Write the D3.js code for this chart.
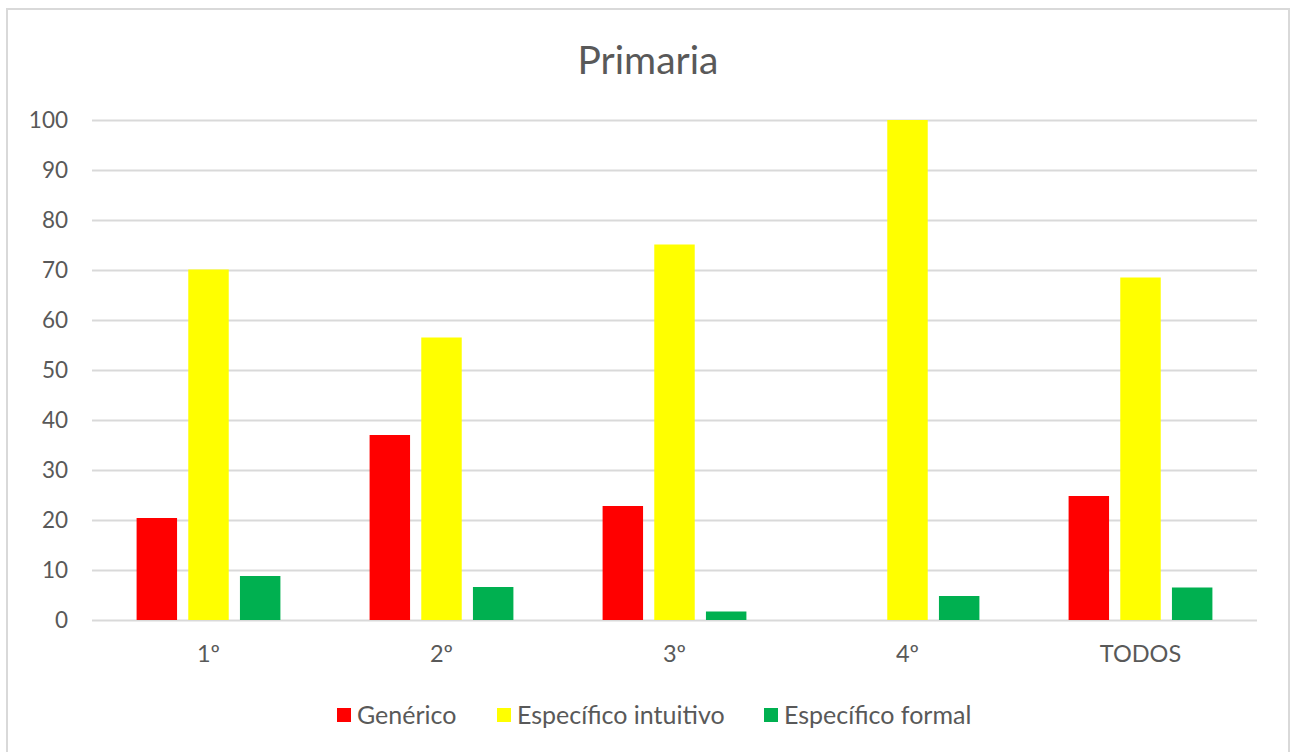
<!DOCTYPE html>
<html>
<head>
<meta charset="utf-8">
<script src="https://cdn.jsdelivr.net/npm/d3@7"></script>
<style>
  html, body { margin: 0; padding: 0; background: #fff; }
  svg { display: block; font-family: Lato, "Open Sans", sans-serif; }
</style>
</head>
<body>
<svg id="chart" width="1292" height="752"></svg>
<script>
const title = "Primaria";
const categories = ["1º", "2º", "3º", "4º", "TODOS"];
const seriesNames = ["Genérico", "Específico intuitivo", "Específico formal"];
const seriesColors = ["#FF0000", "#FFFF00", "#00B050"];
const generico = [20.4, 37.0, 22.8, 0, 24.8];
const intuitivo = [70.1, 56.5, 75.1, 100, 68.5];
const formal = [8.8, 6.6, 1.7, 4.8, 6.5];
const yTicks = [0, 10, 20, 30, 40, 50, 60, 70, 80, 90, 100];

const seriesValues = [generico, intuitivo, formal];
const data = categories.map((c, i) => ({
  cat: c,
  values: seriesNames.map((s, j) => ({ series: s, color: seriesColors[j], value: seriesValues[j][i] }))
}));

const svg = d3.select("#chart");
const W = 1292, H = 752;
const margin = { left: 92, right: 1292 - 1257, top: 120, bottom: 752 - 620 };

// chart border
svg.append("rect")
  .attr("x", 7).attr("y", 9)
  .attr("width", 1282).attr("height", 760)
  .attr("fill", "#fff").attr("stroke", "#d9d9d9").attr("stroke-width", 2);

const x0 = d3.scaleBand().domain(categories).range([margin.left, W - margin.right]).padding(0);
const x1 = d3.scaleBand().domain(seriesNames).range([0, x0.bandwidth()])
  .paddingInner(0.217).paddingOuter(0.863);
const y = d3.scaleLinear().domain([0, 100]).range([H - margin.bottom, margin.top]);

// gridlines
const grid = svg.append("g")
  .attr("transform", `translate(${margin.left},0)`)
  .call(d3.axisLeft(y).tickValues(yTicks).tickSize(-(W - margin.left - margin.right)).tickFormat(""));
grid.select(".domain").remove();
grid.selectAll("line").attr("stroke", "#d9d9d9").attr("stroke-width", 2);

// y labels
const yAxis = svg.append("g")
  .attr("transform", `translate(${margin.left - 24},0)`)
  .call(d3.axisLeft(y).tickValues(yTicks).tickSize(0).tickPadding(0));
yAxis.select(".domain").remove();
yAxis.selectAll("text")
  .attr("fill", "#595959").style("font-size", "22.5px").style("font-family", "Lato");

// bars
const groups = svg.append("g").selectAll("g")
  .data(data).join("g")
  .attr("transform", d => `translate(${x0(d.cat)},0)`);
groups.selectAll("rect")
  .data(d => d.values).join("rect")
  .attr("x", d => x1(d.series))
  .attr("width", x1.bandwidth())
  .attr("y", d => y(d.value))
  .attr("height", d => y(0) - y(d.value))
  .attr("fill", d => d.color);

// x axis labels
const xAxis = svg.append("g")
  .attr("transform", `translate(0,${y(0)})`)
  .call(d3.axisBottom(x0).tickSize(0).tickPadding(25));
xAxis.select(".domain").remove();
xAxis.selectAll("text")
  .attr("fill", "#595959").style("font-size", "23.5px").style("font-family", "Lato");

// title
svg.append("text")
  .attr("x", 648).attr("y", 74)
  .attr("text-anchor", "middle")
  .attr("fill", "#595959")
  .style("font-size", "39px")
  .text(title);

// legend
const legendItems = [
  { name: seriesNames[0], color: seriesColors[0], x: 337 },
  { name: seriesNames[1], color: seriesColors[1], x: 497 },
  { name: seriesNames[2], color: seriesColors[2], x: 764 }
];
const lg = svg.append("g").selectAll("g").data(legendItems).join("g")
  .attr("transform", d => `translate(${d.x},708)`);
lg.append("rect").attr("width", 14).attr("height", 14).attr("fill", d => d.color);
lg.append("text").attr("x", 20).attr("y", 15.5)
  .attr("fill", "#595959").style("font-size", "25px")
  .text(d => d.name);
</script>
</body>
</html>
